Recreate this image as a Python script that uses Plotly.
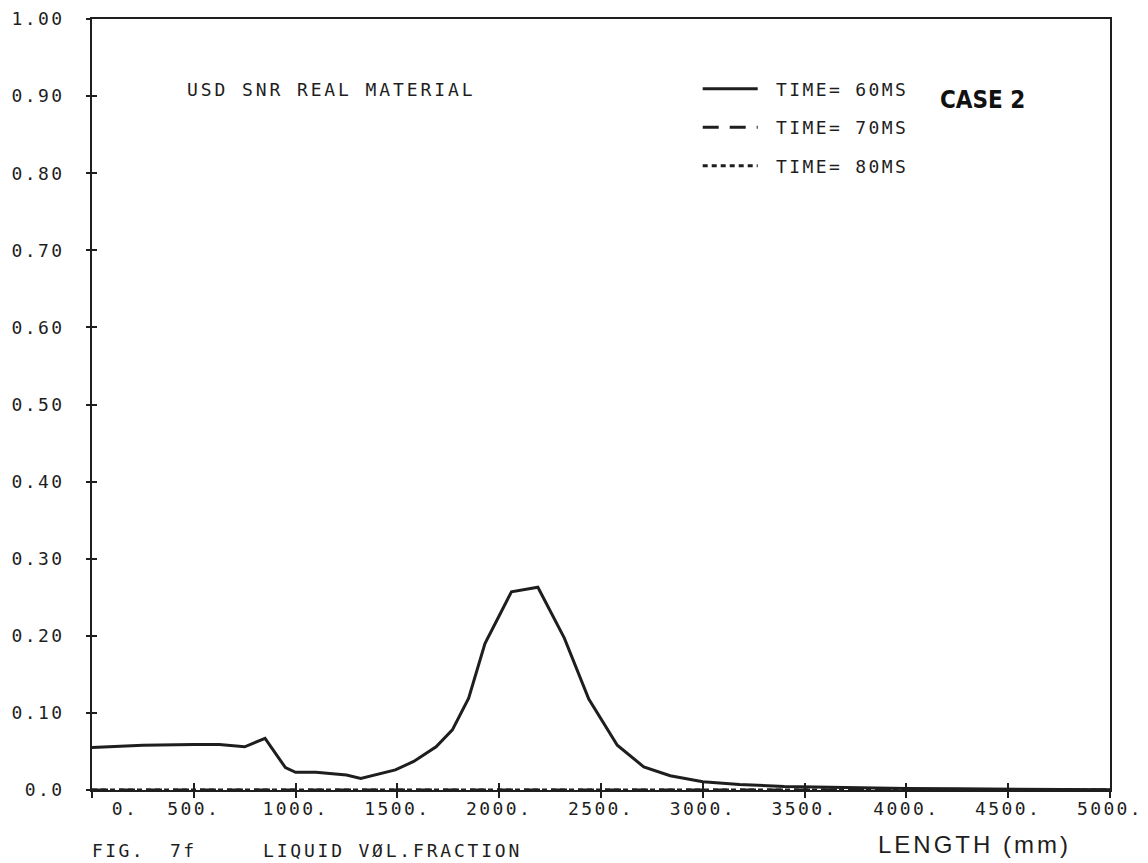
import plotly.graph_objects as go

# ---- data ----
length_mm = [0, 250, 500, 625, 750, 850, 950, 1000, 1100, 1250, 1320, 1490, 1580,
             1690, 1770, 1850, 1930, 2060, 2190, 2320, 2440, 2580, 2710, 2840,
             3000, 3180, 3400, 3600, 3800, 4000, 4250, 4500, 4750, 5000]
frac_60ms = [0.055, 0.058, 0.059, 0.059, 0.056, 0.067, 0.029, 0.023, 0.023, 0.0195,
             0.015, 0.026, 0.037, 0.056, 0.078, 0.119, 0.190, 0.257, 0.263, 0.197,
             0.118, 0.058, 0.030, 0.0185, 0.0106, 0.007, 0.0047, 0.0035, 0.0027,
             0.002, 0.0015, 0.001, 0.0006, 0.0003]
length_70 = [0, 1000, 2000, 3000, 4000, 5000]
frac_70ms = [0.0, 0.0, 0.0, 0.0, 0.0, 0.0]
length_80 = [0, 1000, 2000, 3000, 4000, 5000]
frac_80ms = [0.0, 0.0, 0.0, 0.0, 0.0, 0.0]

y_ticks = [0.0, 0.1, 0.2, 0.3, 0.4, 0.5, 0.6, 0.7, 0.8, 0.9, 1.0]
y_labels = ["0.0", "0.10", "0.20", "0.30", "0.40", "0.50", "0.60", "0.70", "0.80", "0.90", "1.00"]
x_ticks = [0, 500, 1000, 1500, 2000, 2500, 3000, 3500, 4000, 4500, 5000]
x_labels = ["0.", "500.", "1000.", "1500.", "2000.", "2500.", "3000.", "3500.", "4000.", "4500.", "5000."]

INK = "#1e1e1e"
MONO = "DejaVu Sans Mono"
NB = "\u00a0"


def sp(t, ls=2.4):
    return '<span style="letter-spacing:%spx">%s</span>' % (ls, t)


fig = go.Figure()
fig.add_trace(go.Scatter(x=length_mm, y=frac_60ms, mode="lines", name=sp(NB + "TIME= 60MS"),
                         legendgroup="a", line=dict(color=INK, width=3)))
fig.add_trace(go.Scatter(x=length_70, y=frac_70ms, mode="lines", name=sp(NB + "TIME= 70MS"),
                         legendgroup="b", xaxis="x2", yaxis="y2",
                         line=dict(color=INK, width=3, dash="16px,11px")))
fig.add_trace(go.Scatter(x=length_80, y=frac_80ms, mode="lines", name=sp(NB + "TIME= 80MS"),
                         legendgroup="c", xaxis="x2", yaxis="y2",
                         line=dict(color=INK, width=3, dash="5px,4px")))

axis_common = dict(showgrid=False, zeroline=False, color=INK, automargin=False)
fig.update_layout(
    width=1148, height=863,
    margin=dict(l=92, r=38, t=19, b=73, pad=0),
    plot_bgcolor="white", paper_bgcolor="white",
    xaxis=dict(range=[0, 5000], tickvals=x_ticks,
               ticktext=[sp(NB * 5 + x_labels[0])] + [sp(t) for t in x_labels[1:]],
               ticks="inside", ticklen=7, tickwidth=1.5, tickcolor=INK,
               showline=True, linewidth=2, linecolor=INK, mirror=True,
               tickfont=dict(family=MONO, size=18, color=INK), ticklabelstandoff=1,
               **axis_common),
    yaxis=dict(range=[0, 1], tickvals=y_ticks, ticktext=[sp(t) for t in y_labels],
               ticks="inside", ticklen=5, tickwidth=1.5, tickcolor=INK,
               showline=True, linewidth=2, linecolor=INK, mirror=True,
               tickfont=dict(family=MONO, size=18, color=INK), ticklabelstandoff=22,
               **axis_common),
    xaxis2=dict(range=[0, 5000], overlaying="x", anchor="y2", side="bottom", tickvals=x_ticks,
                ticks="outside", ticklen=7, tickwidth=1.5, tickcolor=INK,
                showticklabels=False, showline=False, **axis_common),
    yaxis2=dict(range=[0, 1], overlaying="y", anchor="x2", side="left", tickvals=y_ticks,
                ticks="outside", ticklen=5, tickwidth=1.5, tickcolor=INK,
                showticklabels=False, showline=False, **axis_common),
    legend=dict(x=0.595, y=0.933, xanchor="left", yanchor="top",
                font=dict(family=MONO, size=18, color=INK),
                bgcolor="rgba(0,0,0,0)", itemwidth=55, tracegroupgap=12),
    showlegend=True,
)

fig.add_annotation(x=456, y=0.908, xref="x", yref="y", text=sp("USD SNR REAL MATERIAL", 2.9),
                   showarrow=False, xanchor="left", yanchor="middle",
                   font=dict(family=MONO, size=18, color=INK))
fig.add_annotation(x=4376, y=0.895, xref="x", yref="y", text="<b>CASE 2</b>",
                   showarrow=False, xanchor="center", yanchor="middle",
                   font=dict(family="Liberation Sans Narrow, DejaVu Sans Condensed, Roboto Condensed, sans-serif",
                             size=24, color="#111"))
fig.add_annotation(x=0.867, y=-0.0713, xref="paper", yref="paper",
                   text=sp("LENGTH (mm)", 3), showarrow=False,
                   xanchor="center", yanchor="middle",
                   font=dict(family="Liberation Sans", size=24, color=INK))
fig.add_annotation(x=-0.002, y=-0.079, xref="paper", yref="paper", text=sp("FIG."),
                   showarrow=False, xanchor="left", yanchor="middle",
                   font=dict(family=MONO, size=18, color=INK))
fig.add_annotation(x=0.0747, y=-0.079, xref="paper", yref="paper", text=sp("7f"),
                   showarrow=False, xanchor="left", yanchor="middle",
                   font=dict(family=MONO, size=18, color=INK))
fig.add_annotation(x=0.166, y=-0.079, xref="paper", yref="paper", text=sp("LIQUID VØL.FRACTION", 2.8),
                   showarrow=False, xanchor="left", yanchor="middle",
                   font=dict(family=MONO, size=18, color=INK))

fig.write_html("out.html")
